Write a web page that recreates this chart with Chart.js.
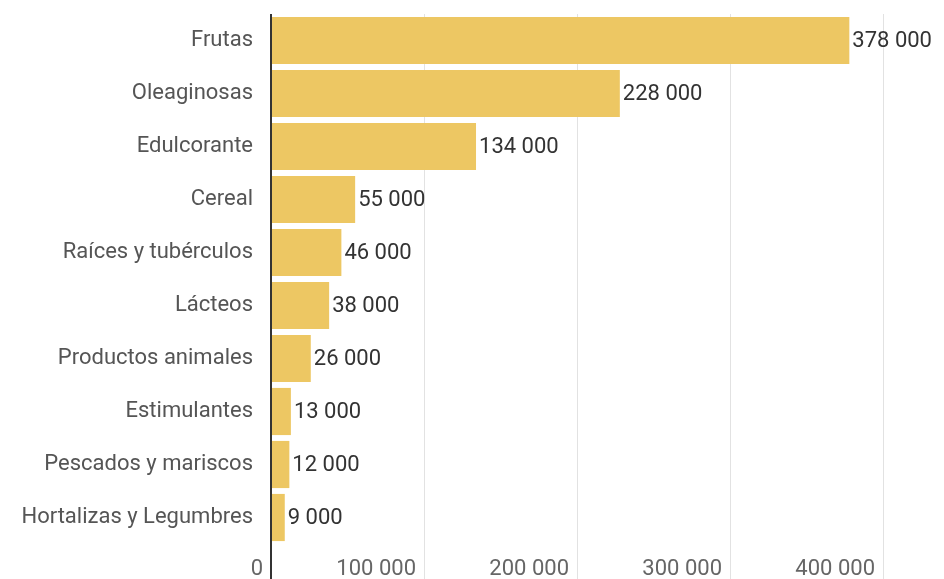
<!DOCTYPE html>
<html>
<head>
<meta charset="utf-8">
<script src="https://cdn.jsdelivr.net/npm/chart.js@4.4.1/dist/chart.umd.min.js"></script>
<style>
  html, body { margin: 0; padding: 0; background: #fff; }
  #wrap { width: 944px; height: 579px; }
</style>
</head>
<body>
<div id="wrap"><canvas id="chart"></canvas></div>
<script>
const categories = ['Frutas', 'Oleaginosas', 'Edulcorante', 'Cereal', 'Raíces y tubérculos',
  'Lácteos', 'Productos animales', 'Estimulantes', 'Pescados y mariscos', 'Hortalizas y Legumbres'];
const values = [378000, 228000, 134000, 55000, 46000, 38000, 26000, 13000, 12000, 9000];
const xTicks = [0, 100000, 200000, 300000, 400000];

// 378000 -> "378 000"
function fmt(v) {
    return String(v).replace(/\B(?=(\d{3})+(?!\d))/g, ' ');
}

// write the value just past the end of each bar
const valueLabels = {
    id: 'valueLabels',
    afterDatasetsDraw(chart) {
        const ctx = chart.ctx;
        const meta = chart.getDatasetMeta(0);
        ctx.save();
        ctx.font = '22px Roboto';
        ctx.fillStyle = '#333';
        ctx.textAlign = 'left';
        ctx.textBaseline = 'middle';
        meta.data.forEach(function(bar, i) {
            ctx.fillText(fmt(values[i]), bar.x + 3, bar.y + 1);
        });
        ctx.restore();
    }
};

Chart.defaults.font.family = 'Roboto';

var ctx = document.getElementById('chart').getContext('2d');

var chart = new Chart(ctx, {
    type: 'bar',
    data: {
        labels: categories,
        datasets: [{
            data: values,
            backgroundColor: '#edc763',
            barPercentage: 0.89,
            categoryPercentage: 1
        }]
    },
    options: {
        indexAxis: 'y',
        responsive: true,
        maintainAspectRatio: false,
        animation: false,
        layout: { padding: { top: 14, right: 61, left: 0, bottom: 0 } },
        plugins: {
            legend: { display: false },
            tooltip: { enabled: false }
        },
        scales: {
            x: {
                min: 0,
                max: 400000,
                afterBuildTicks: function(scale) {
                    scale.ticks = xTicks.map(function(v) { return { value: v }; });
                },
                afterFit: function(scale) {
                    scale.height = 35;
                    scale.paddingLeft = 0;
                    scale.paddingRight = 0;
                },
                border: { display: false },
                grid: {
                    drawTicks: true,
                    tickLength: 35,
                    color: function(c) { return c.tick && c.tick.value === 0 ? '#333' : '#e2e2e2'; },
                    lineWidth: function(c) { return c.tick && c.tick.value === 0 ? 2 : 1; }
                },
                ticks: {
                    align: 'end',
                    labelOffset: -8,
                    padding: -23,
                    color: '#666',
                    font: { size: 22 },
                    callback: function(v) { return fmt(v); }
                }
            },
            y: {
                afterFit: function(scale) {
                    scale.width = 271;
                    scale.paddingTop = 0;
                    scale.paddingBottom = 0;
                },
                border: { display: false },
                grid: { display: false, drawTicks: false },
                ticks: {
                    padding: 18,
                    color: '#555',
                    font: { size: 22 }
                }
            }
        }
    },
    plugins: [valueLabels]
});
</script>
</body>
</html>
